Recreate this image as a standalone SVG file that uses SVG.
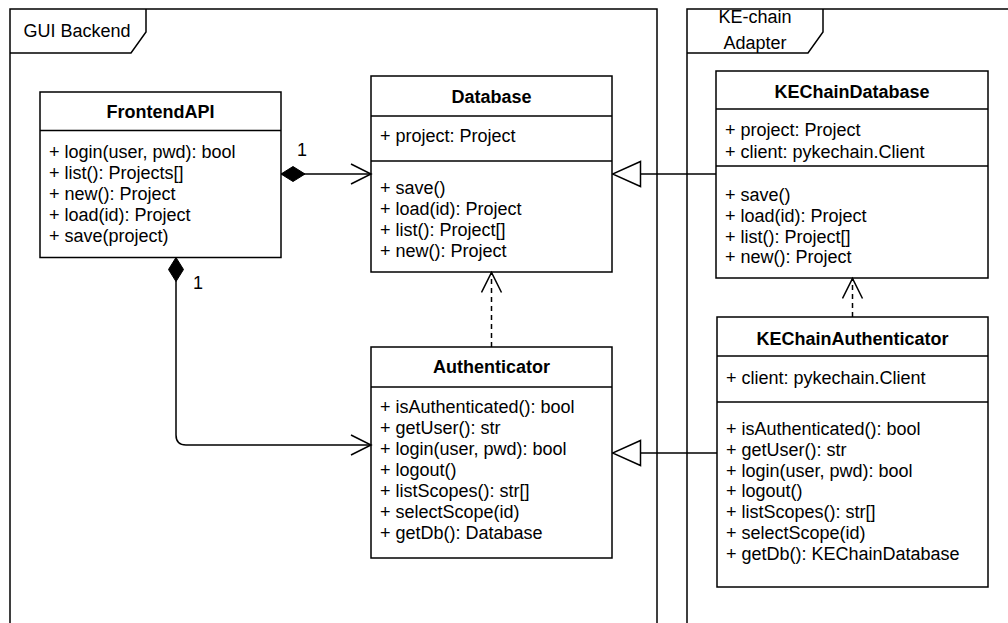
<svg xmlns="http://www.w3.org/2000/svg" width="1008" height="623" viewBox="0 0 1008 623">
<defs>
<style>
.frame{fill:none;stroke:#000;stroke-width:1.5}
.box{fill:#fff;stroke:#000;stroke-width:1.5}
.sep{stroke:#000;stroke-width:1.5}
.t{font-family:"Liberation Sans",Arial,Helvetica,sans-serif;font-size:18px;fill:#000}
.h{font-weight:bold;text-anchor:middle}
.c{text-anchor:middle}
.conn{fill:none;stroke:#000;stroke-width:1.5}
.dash{stroke-dasharray:5 4}
</style>
<marker id="open" markerUnits="userSpaceOnUse" markerWidth="24" markerHeight="24" viewBox="0 0 24 24" refX="21" refY="11" orient="auto">
<path d="M1,1 L21,11 L1,21" fill="none" stroke="#000" stroke-width="1.5"/>
</marker>
<marker id="diamond" markerUnits="userSpaceOnUse" markerWidth="26" markerHeight="17" viewBox="0 0 26 17" refX="0" refY="8" orient="auto">
<path d="M0,8 L12,0.5 L24,8 L12,15.5 Z" fill="#000" stroke="#000" stroke-width="1"/>
</marker>
<marker id="tri" markerUnits="userSpaceOnUse" markerWidth="30" markerHeight="28" viewBox="0 0 30 28" refX="29" refY="13.5" orient="auto">
<path d="M1,1 L29,13.5 L1,26 Z" fill="#fff" stroke="#000" stroke-width="1.5"/>
</marker>
</defs>
<rect width="1008" height="623" fill="#fff"/>

<g id="frame-gui">
<rect class="frame" x="10" y="9" width="647" height="640"/>
<path class="frame" d="M10,53 H131 L146,32 V9"/>
<text class="t c" x="77" y="37">GUI Backend</text>
</g>
<g id="frame-ke">
<rect class="frame" x="687" y="9" width="360" height="640"/>
<path class="frame" d="M687,53 H808 L823,32 V9"/>
<text class="t c" x="755" y="23">KE-chain</text>
<text class="t c" x="755" y="49">Adapter</text>
</g>

<g id="FrontendAPI">
<rect class="box" x="40" y="92" width="241" height="165.5"/>
<line class="sep" x1="40" y1="130.5" x2="281" y2="130.5"/>
<text class="t h" x="160.5" y="118">FrontendAPI</text>
<text class="t" x="49" y="158">+ login(user, pwd): bool</text>
<text class="t" x="49" y="179">+ list(): Projects[]</text>
<text class="t" x="49" y="200">+ new(): Project</text>
<text class="t" x="49" y="221">+ load(id): Project</text>
<text class="t" x="49" y="242">+ save(project)</text>
</g>

<g id="Database">
<rect class="box" x="371" y="76" width="241" height="196"/>
<line class="sep" x1="371" y1="116" x2="612" y2="116"/>
<line class="sep" x1="371" y1="161" x2="612" y2="161"/>
<text class="t h" x="491.5" y="103">Database</text>
<text class="t" x="380" y="142">+ project: Project</text>
<text class="t" x="380" y="194">+ save()</text>
<text class="t" x="380" y="215">+ load(id): Project</text>
<text class="t" x="380" y="236">+ list(): Project[]</text>
<text class="t" x="380" y="257">+ new(): Project</text>
</g>

<g id="Authenticator">
<rect class="box" x="371" y="347" width="241" height="211"/>
<line class="sep" x1="371" y1="387" x2="612" y2="387"/>
<text class="t h" x="491.5" y="373">Authenticator</text>
<text class="t" x="380" y="413">+ isAuthenticated(): bool</text>
<text class="t" x="380" y="434">+ getUser(): str</text>
<text class="t" x="380" y="455">+ login(user, pwd): bool</text>
<text class="t" x="380" y="476">+ logout()</text>
<text class="t" x="380" y="497">+ listScopes(): str[]</text>
<text class="t" x="380" y="518">+ selectScope(id)</text>
<text class="t" x="380" y="539">+ getDb(): Database</text>
</g>

<g id="KEChainDatabase">
<rect class="box" x="716" y="71" width="272" height="207"/>
<line class="sep" x1="716" y1="109" x2="988" y2="109"/>
<line class="sep" x1="716" y1="166" x2="988" y2="166"/>
<text class="t h" x="852" y="98">KEChainDatabase</text>
<text class="t" x="725" y="136">+ project: Project</text>
<text class="t" x="725" y="158">+ client: pykechain.Client</text>
<text class="t" x="725" y="200.5">+ save()</text>
<text class="t" x="725" y="221.5">+ load(id): Project</text>
<text class="t" x="725" y="242.5">+ list(): Project[]</text>
<text class="t" x="725" y="263">+ new(): Project</text>
</g>

<g id="KEChainAuthenticator">
<rect class="box" x="717" y="317" width="271" height="270"/>
<line class="sep" x1="717" y1="356" x2="988" y2="356"/>
<line class="sep" x1="717" y1="402" x2="988" y2="402"/>
<text class="t h" x="852.5" y="344.5">KEChainAuthenticator</text>
<text class="t" x="726" y="384">+ client: pykechain.Client</text>
<text class="t" x="726" y="434.5">+ isAuthenticated(): bool</text>
<text class="t" x="726" y="455.5">+ getUser(): str</text>
<text class="t" x="726" y="476.5">+ login(user, pwd): bool</text>
<text class="t" x="726" y="497">+ logout()</text>
<text class="t" x="726" y="518">+ listScopes(): str[]</text>
<text class="t" x="726" y="539">+ selectScope(id)</text>
<text class="t" x="726" y="560">+ getDb(): KEChainDatabase</text>
</g>

<g id="connectors">
<path class="conn" d="M281,174 H371" marker-start="url(#diamond)" marker-end="url(#open)"/>
<text class="t c" x="302" y="156">1</text>
<path class="conn" d="M176,257.5 V435 Q176,445 186,445 H371" marker-start="url(#diamond)" marker-end="url(#open)"/>
<text class="t c" x="198" y="289">1</text>
<path class="conn dash" d="M491.5,347 V272.5" marker-end="url(#open)"/>
<path class="conn dash" d="M852.5,317 V278.5" marker-end="url(#open)"/>
<path class="conn" d="M716,174 H612.5" marker-end="url(#tri)"/>
<path class="conn" d="M717,453 H612.5" marker-end="url(#tri)"/>
</g>
</svg>
